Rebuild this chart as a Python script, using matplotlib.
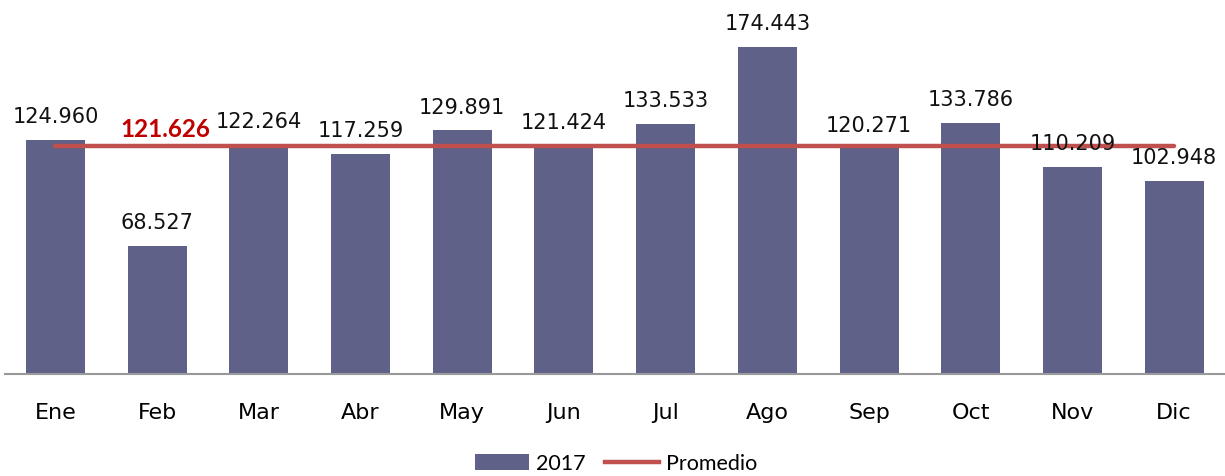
import matplotlib
matplotlib.use("Agg")
import matplotlib.pyplot as plt
from matplotlib.lines import Line2D
from matplotlib.patches import Patch

months = ["Ene", "Feb", "Mar", "Abr", "May", "Jun", "Jul", "Ago", "Sep", "Oct", "Nov", "Dic"]
values_2017 = [124.960, 68.527, 122.264, 117.259, 129.891, 121.424, 133.533,
               174.443, 120.271, 133.786, 110.209, 102.948]
promedio = 121.626
series_label = "2017"
avg_label = "Promedio"

bar_color = "#5F6189"
line_color = "#C0504D"
avg_text_color = "#C00000"

fig = plt.figure(figsize=(12.25, 4.77), dpi=100)
ax = fig.add_axes([4.6 / 1225, 102 / 477, 1 - 4.6 / 1225, 375 / 477])

x = list(range(len(months)))
ax.bar(x, values_2017, width=0.58, color=bar_color, zorder=2)
ax.plot([x[0], x[-1]], [promedio, promedio], color=line_color, lw=3.2,
        solid_capstyle="round", zorder=3)

for xi, v in zip(x, values_2017):
    ax.annotate(f"{v:.3f}", (xi, v), xytext=(0, 10), textcoords="offset points",
                ha="center", va="bottom", fontsize=15, color="#111111")

ax.annotate(f"{promedio:.3f}", (1.08, promedio), xytext=(0, 4), textcoords="offset points",
            ha="center", va="bottom", fontsize=17.5, fontweight="bold",
            color=avg_text_color, family="Lato")

ax.set_xlim(-0.5, 11.5)
ax.set_ylim(0, 200)
ax.set_xticks(x)
ax.set_xticklabels(months, fontsize=16)
ax.tick_params(axis="x", length=0, pad=20)
ax.set_yticks([])
for s in ["top", "right", "left"]:
    ax.spines[s].set_visible(False)
ax.spines["bottom"].set_color("#999999")
ax.spines["bottom"].set_linewidth(1.5)

handles = [Patch(facecolor=bar_color, edgecolor="none"),
           Line2D([0], [0], color=line_color, lw=3.2)]
fig.legend(handles, [series_label, avg_label], loc="center", bbox_to_anchor=(0.503, 12.5 / 477),
           ncol=2, frameon=False, prop={"family": "Lato", "size": 15.5},
           handlelength=2.5, handletextpad=0.35, columnspacing=0.9, handleheight=0.75)

fig.savefig("out.png", dpi=100)
